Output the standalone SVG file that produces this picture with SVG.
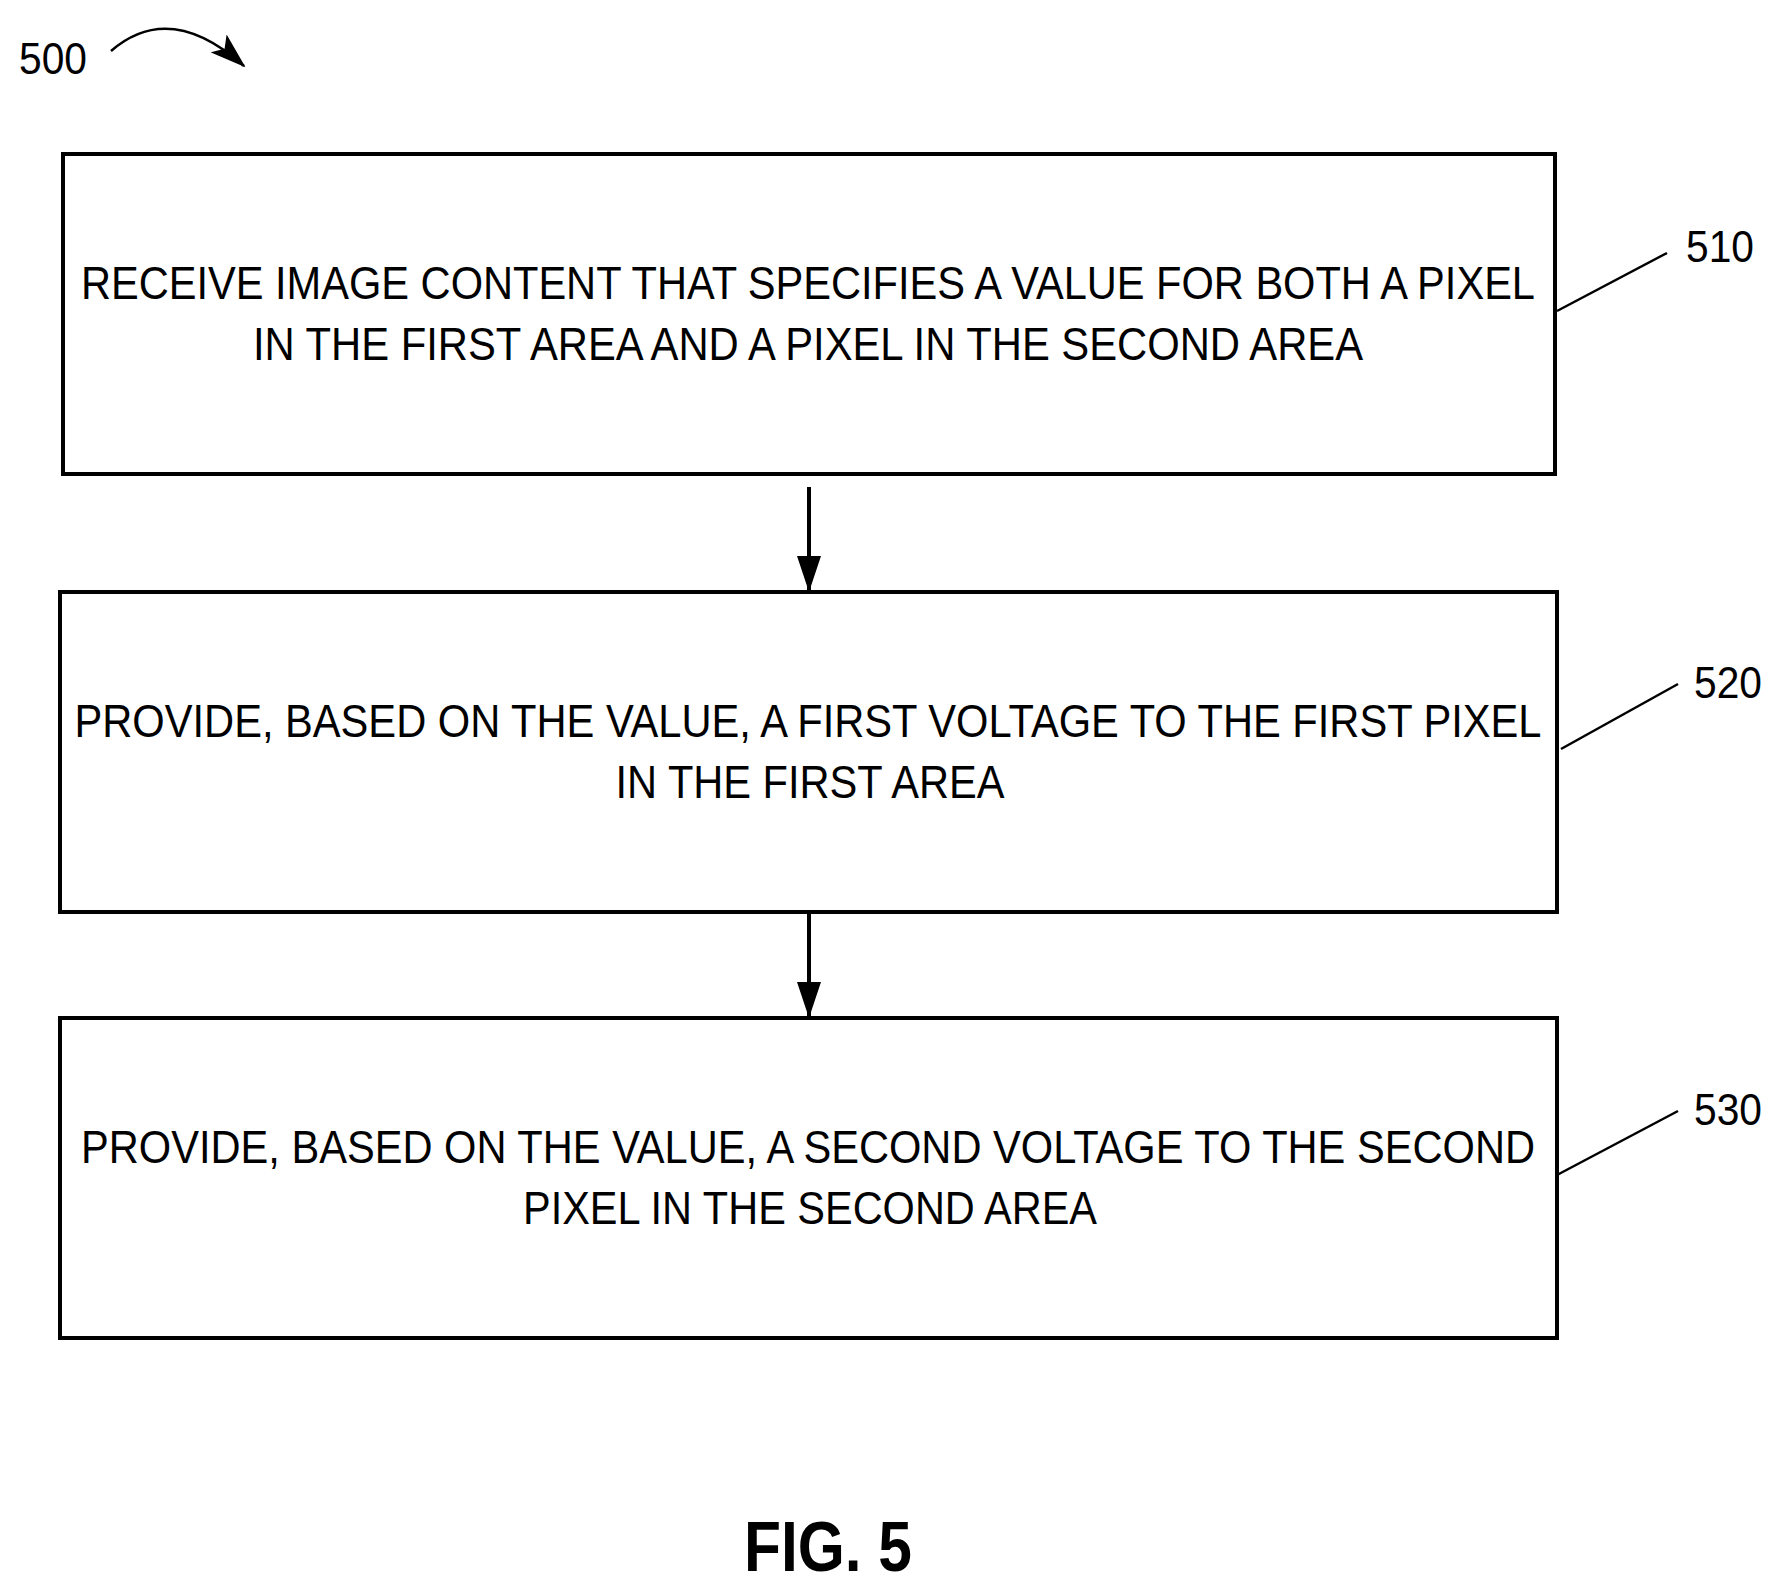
<svg xmlns="http://www.w3.org/2000/svg" width="1779" height="1588" viewBox="0 0 1779 1588">
<style>
.box{fill:#fff;stroke:#000;stroke-width:4}
.t{font-family:"Liberation Sans",Arial,sans-serif;font-size:46px;text-anchor:middle}
.lbl{font-family:"Liberation Sans",Arial,sans-serif;font-size:44px}
.ln{stroke:#000;stroke-width:2.5;fill:none}
.c{stroke:#000;stroke-width:4;fill:none}
</style>
<defs>
<marker id="ah2" viewBox="0 0 36 24" refX="34" refY="12" markerWidth="36" markerHeight="24" orient="auto" markerUnits="userSpaceOnUse"><path d="M0,0 L36,12 L0,24 L8,12 Z"/></marker>
<marker id="ah3" viewBox="0 0 36 24" refX="34" refY="12" markerWidth="36" markerHeight="24" orient="auto" markerUnits="userSpaceOnUse"><path d="M0,0 L36,12 L0,24 Z"/></marker></defs>
<text class="lbl" x="19" y="74" textLength="68" lengthAdjust="spacingAndGlyphs">500</text>
<path class="ln" d="M111,51 Q170,0 244,66" stroke-width="3" marker-end="url(#ah2)"/>
<g id="n510"><rect class="box" x="63" y="154" width="1492" height="320"/>
<text class="t" x="808" y="299" textLength="1454" lengthAdjust="spacingAndGlyphs">RECEIVE IMAGE CONTENT THAT SPECIFIES A VALUE FOR BOTH A PIXEL</text>
<text class="t" x="808" y="360" textLength="1110" lengthAdjust="spacingAndGlyphs">IN THE FIRST AREA AND A PIXEL IN THE SECOND AREA</text>
<path class="ln" d="M1557,311 L1667,253"/><text class="lbl" x="1686" y="262" textLength="68" lengthAdjust="spacingAndGlyphs">510</text></g>
<g id="n520"><rect class="box" x="60" y="592" width="1497" height="320"/>
<text class="t" x="808" y="737" textLength="1467" lengthAdjust="spacingAndGlyphs">PROVIDE, BASED ON THE VALUE, A FIRST VOLTAGE TO THE FIRST PIXEL</text>
<text class="t" x="810" y="798" textLength="389" lengthAdjust="spacingAndGlyphs">IN THE FIRST AREA</text>
<path class="ln" d="M1561,749 L1678,684"/><text class="lbl" x="1694" y="698" textLength="68" lengthAdjust="spacingAndGlyphs">520</text></g>
<g id="n530"><rect class="box" x="60" y="1018" width="1497" height="320"/>
<text class="t" x="808" y="1163" textLength="1454" lengthAdjust="spacingAndGlyphs">PROVIDE, BASED ON THE VALUE, A SECOND VOLTAGE TO THE SECOND</text>
<text class="t" x="810" y="1224" textLength="574" lengthAdjust="spacingAndGlyphs">PIXEL IN THE SECOND AREA</text>
<path class="ln" d="M1557,1175 L1678,1111"/><text class="lbl" x="1694" y="1125" textLength="68" lengthAdjust="spacingAndGlyphs">530</text></g>
<g id="connectors">
<line class="c" x1="809" y1="487" x2="809" y2="590" marker-end="url(#ah3)"/>
<line class="c" x1="809" y1="912" x2="809" y2="1016" marker-end="url(#ah3)"/>
</g>
<text x="828" y="1571" font-family="Liberation Sans,Arial,sans-serif" font-weight="bold" font-size="70" text-anchor="middle" textLength="168" lengthAdjust="spacingAndGlyphs">FIG. 5</text>
</svg>
